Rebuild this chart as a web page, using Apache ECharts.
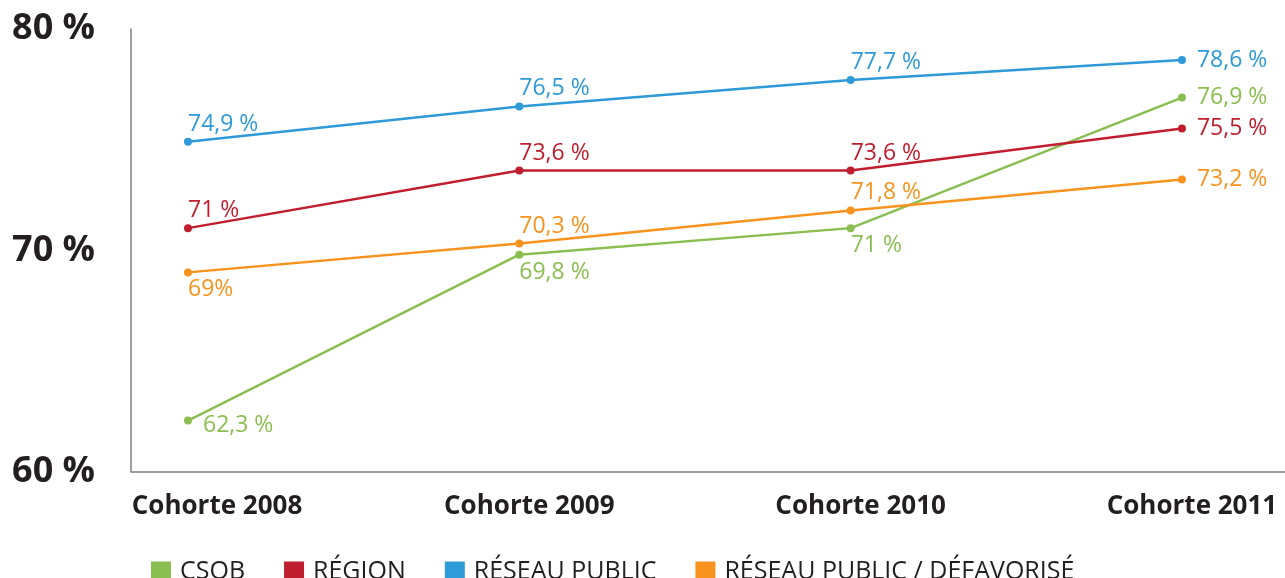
<!DOCTYPE html>
<html>
<head>
<meta charset="utf-8">
<script src="https://cdn.jsdelivr.net/npm/echarts@6/dist/echarts.min.js"></script>
<style>
html, body { margin: 0; padding: 0; background: #fff; }
#main { width: 1285px; height: 578px; }
</style>
</head>
<body>
<div id="main"></div>
<script>
// données du graphique
const cohortes = ['Cohorte 2008', 'Cohorte 2009', 'Cohorte 2010', 'Cohorte 2011'];
const csob = [62.3, 69.8, 71, 76.9];
const region = [71, 73.6, 73.6, 75.5];
const reseauPublic = [74.9, 76.5, 77.7, 78.6];
const defavorise = [69, 70.3, 71.8, 73.2];
const yTicks = [60, 70, 80];

// placement des étiquettes, point par point
const placement = {
    csob: ['rightLow', 'bottom', 'bottom', 'right'],
    region: ['top', 'top', 'top', 'right'],
    reseauPublic: ['top', 'top', 'top', 'right'],
    defavorise: ['bottom', 'top', 'top', 'right']
};

function fmt(v) {
    return String(v).replace('.', ',') + ' %';
}

function labelFor(pos) {
    if (pos === 'top') return { position: 'top', align: 'left', distance: 2 };
    if (pos === 'bottom') return { position: 'bottom', align: 'left', distance: 2 };
    if (pos === 'rightLow') return { position: 'right', distance: 11, offset: [0, 5] };
    return { position: 'right', distance: 11 };
}

function makeSeries(name, values, places, color) {
    return {
        name: name,
        type: 'line',
        symbol: 'circle',
        symbolSize: 8,
        color: color,
        lineStyle: { width: 2.5, color: color },
        itemStyle: { color: color },
        label: {
            show: true,
            color: color,
            fontSize: 23,
            fontFamily: 'Open Sans',
            formatter: p => (p.value[1] === 69 ? '69%' : fmt(p.value[1]))
        },
        data: values.map((v, i) => ({ value: [i, v], label: labelFor(places[i]) }))
    };
}

const axisTxt = { fontSize: 26, fontWeight: 'bold', fontFamily: 'Open Sans', color: '#231F20' };

let myChart = echarts.init(document.getElementById('main'));
let option = {
    animation: false,
    backgroundColor: '#fff',
    grid: { left: 131, right: 0, top: 29, bottom: 106.5, containLabel: false },
    legend: {
        top: 554,
        left: 146,
        icon: 'rect',
        itemWidth: 20,
        itemHeight: 20,
        itemGap: 39,
        textStyle: { fontSize: 25, color: '#231F20', fontFamily: 'Open Sans', padding: [0, 0, 0, 4] },
        data: ['CSOB', 'RÉGION', 'RÉSEAU PUBLIC', 'RÉSEAU PUBLIC / DÉFAVORISÉ']
    },
    xAxis: {
        type: 'value',
        min: -0.172,
        max: 3.311,
        splitLine: { show: false },
        axisTick: { show: false },
        axisLine: { show: true, onZero: false, lineStyle: { color: '#808080', width: 1.5 } },
        axisLabel: {
            customValues: [0, 1, 2, 3],
            formatter: v => {
                const i = Math.round(v);
                return (i === 0 ? '{first|' : '{other|') + cohortes[i] + '}';
            },
            margin: 22,
            rich: {
                first: Object.assign({ padding: [0, 0, 0, 58] }, axisTxt),
                other: Object.assign({ padding: [0, 0, 0, 20] }, axisTxt)
            }
        }
    },
    yAxis: {
        type: 'value',
        min: yTicks[0],
        max: yTicks[yTicks.length - 1],
        interval: yTicks[1] - yTicks[0],
        splitLine: { show: false },
        axisTick: { show: false },
        axisLine: { show: true, onZero: false, lineStyle: { color: '#808080', width: 1.5 } },
        axisLabel: {
            formatter: v => v + ' %',
            margin: 36,
            fontSize: 36,
            fontWeight: 'bold',
            fontFamily: 'Open Sans',
            color: '#231F20'
        }
    },
    series: [
        makeSeries('CSOB', csob, placement.csob, '#8BBE50'),
        makeSeries('RÉGION', region, placement.region, '#C01E2E'),
        makeSeries('RÉSEAU PUBLIC', reseauPublic, placement.reseauPublic, '#2E9AD7'),
        makeSeries('RÉSEAU PUBLIC / DÉFAVORISÉ', defavorise, placement.defavorise, '#F7931E')
    ]
};
myChart.setOption(option);
</script>
</body>
</html>
